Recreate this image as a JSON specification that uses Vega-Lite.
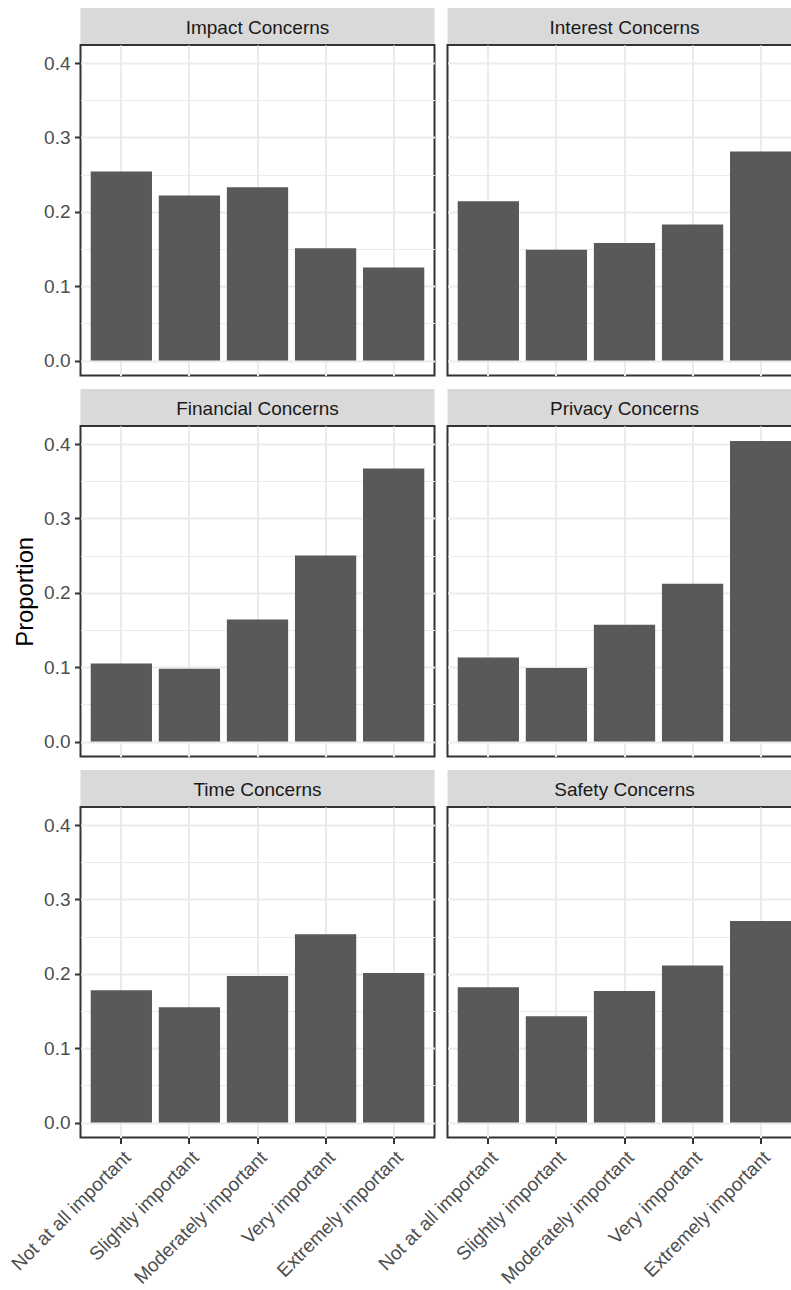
{
  "$schema": "https://vega.github.io/schema/vega-lite/v6.json",
  "padding": {"left": 6.5, "top": 8, "right": -12, "bottom": 5},
  "background": "white",
  "datasets": {
    "props": [
      {"panel": "Impact Concerns", "importance": "Not at all important", "prop": 0.254},
      {"panel": "Impact Concerns", "importance": "Slightly important", "prop": 0.222},
      {"panel": "Impact Concerns", "importance": "Moderately important", "prop": 0.233},
      {"panel": "Impact Concerns", "importance": "Very important", "prop": 0.151},
      {"panel": "Impact Concerns", "importance": "Extremely important", "prop": 0.125},
      {"panel": "Interest Concerns", "importance": "Not at all important", "prop": 0.214},
      {"panel": "Interest Concerns", "importance": "Slightly important", "prop": 0.149},
      {"panel": "Interest Concerns", "importance": "Moderately important", "prop": 0.158},
      {"panel": "Interest Concerns", "importance": "Very important", "prop": 0.183},
      {"panel": "Interest Concerns", "importance": "Extremely important", "prop": 0.281},
      {"panel": "Financial Concerns", "importance": "Not at all important", "prop": 0.105},
      {"panel": "Financial Concerns", "importance": "Slightly important", "prop": 0.098},
      {"panel": "Financial Concerns", "importance": "Moderately important", "prop": 0.164},
      {"panel": "Financial Concerns", "importance": "Very important", "prop": 0.250},
      {"panel": "Financial Concerns", "importance": "Extremely important", "prop": 0.367},
      {"panel": "Privacy Concerns", "importance": "Not at all important", "prop": 0.113},
      {"panel": "Privacy Concerns", "importance": "Slightly important", "prop": 0.099},
      {"panel": "Privacy Concerns", "importance": "Moderately important", "prop": 0.157},
      {"panel": "Privacy Concerns", "importance": "Very important", "prop": 0.212},
      {"panel": "Privacy Concerns", "importance": "Extremely important", "prop": 0.404},
      {"panel": "Time Concerns", "importance": "Not at all important", "prop": 0.178},
      {"panel": "Time Concerns", "importance": "Slightly important", "prop": 0.155},
      {"panel": "Time Concerns", "importance": "Moderately important", "prop": 0.197},
      {"panel": "Time Concerns", "importance": "Very important", "prop": 0.253},
      {"panel": "Time Concerns", "importance": "Extremely important", "prop": 0.201},
      {"panel": "Safety Concerns", "importance": "Not at all important", "prop": 0.182},
      {"panel": "Safety Concerns", "importance": "Slightly important", "prop": 0.143},
      {"panel": "Safety Concerns", "importance": "Moderately important", "prop": 0.177},
      {"panel": "Safety Concerns", "importance": "Very important", "prop": 0.211},
      {"panel": "Safety Concerns", "importance": "Extremely important", "prop": 0.271}
    ]
  },
  "config": {
    "font": "Liberation Sans",
    "view": {"stroke": "#333333", "strokeWidth": 2},
    "axis": {
      "gridColor": "#ebebeb",
      "domain": false,
      "tickColor": "#333333",
      "tickWidth": 2,
      "tickSize": 6,
      "labelColor": "#4d4d4d",
      "labelFont": "Liberation Sans",
      "labelFontSize": 19,
      "titleFont": "Liberation Sans",
      "titleColor": "#000000",
      "titleFontSize": 23.8,
      "titleFontWeight": "normal",
      "minExtent": 0,
      "labelFlush": false,
      "labelOverlap": false
    },
    "bar": {"color": "#595959"},
    "text": {"font": "Liberation Sans"}
  },
  "spacing": 12,
  "vconcat": [
    {
      "spacing": 11,
      "hconcat": [
        {
          "spacing": -2,
          "vconcat": [
            {
              "width": 354, "height": 36.5,
              "data": {"name": "props"},
              "transform": [{"filter": "datum.panel === 'Impact Concerns'"}, {"aggregate": [{"op": "count", "as": "n"}], "groupby": ["panel"]}],
              "view": {"fill": "#d9d9d9"},
              "mark": {"type": "text", "fontSize": 19, "color": "#1a1a1a", "align": "center", "baseline": "middle", "dy": 2},
              "encoding": {"text": {"field": "panel", "type": "nominal"}}
            },
            {
              "width": 354, "height": 330.6,
              "data": {"name": "props"},
              "transform": [{"filter": "datum.panel === 'Impact Concerns'"}],
              "mark": {"type": "bar"},
              "encoding": {
                "x": {"field": "importance", "type": "nominal", "sort": ["Not at all important", "Slightly important", "Moderately important", "Very important", "Extremely important"], "scale": {"paddingInner": 0.1, "paddingOuter": 0.15}, "axis": {"title": null, "labels": false, "ticks": false, "grid": true, "gridWidth": 2, "bandPosition": 0.5}},
                "y": {"field": "prop", "type": "quantitative", "scale": {"domain": [-0.0202, 0.4242], "nice": false, "zero": false}, "axis": {"values": [0, 0.05, 0.1, 0.15, 0.2, 0.25, 0.3, 0.35, 0.4], "grid": true, "gridWidth": {"condition": {"test": "round(datum.value*100) % 10 != 0", "value": 1}, "value": 2}, "tickOpacity": {"condition": {"test": "round(datum.value*100) % 10 != 0", "value": 0}, "value": 1}, "labelExpr": "round(datum.value*100) % 10 == 0 ? format(datum.value, '.1f') : ''", "labelPadding": 4.5, "title": " ", "titlePadding": 6.5}},
                "y2": {"datum": 0}
              }
            }
          ]
        },
        {
          "spacing": -2,
          "vconcat": [
            {
              "width": 354, "height": 36.5,
              "data": {"name": "props"},
              "transform": [{"filter": "datum.panel === 'Interest Concerns'"}, {"aggregate": [{"op": "count", "as": "n"}], "groupby": ["panel"]}],
              "view": {"fill": "#d9d9d9"},
              "mark": {"type": "text", "fontSize": 19, "color": "#1a1a1a", "align": "center", "baseline": "middle", "dy": 2},
              "encoding": {"text": {"field": "panel", "type": "nominal"}}
            },
            {
              "width": 354, "height": 330.6,
              "data": {"name": "props"},
              "transform": [{"filter": "datum.panel === 'Interest Concerns'"}],
              "mark": {"type": "bar"},
              "encoding": {
                "x": {"field": "importance", "type": "nominal", "sort": ["Not at all important", "Slightly important", "Moderately important", "Very important", "Extremely important"], "scale": {"paddingInner": 0.1, "paddingOuter": 0.15}, "axis": {"title": null, "labels": false, "ticks": false, "grid": true, "gridWidth": 2, "bandPosition": 0.5}},
                "y": {"field": "prop", "type": "quantitative", "scale": {"domain": [-0.0202, 0.4242], "nice": false, "zero": false}, "axis": {"values": [0, 0.05, 0.1, 0.15, 0.2, 0.25, 0.3, 0.35, 0.4], "grid": true, "gridWidth": {"condition": {"test": "round(datum.value*100) % 10 != 0", "value": 1}, "value": 2}, "labels": false, "ticks": false, "title": null}},
                "y2": {"datum": 0}
              }
            }
          ]
        }
      ]
    },
    {
      "spacing": 11,
      "hconcat": [
        {
          "spacing": -2,
          "vconcat": [
            {
              "width": 354, "height": 36.5,
              "data": {"name": "props"},
              "transform": [{"filter": "datum.panel === 'Financial Concerns'"}, {"aggregate": [{"op": "count", "as": "n"}], "groupby": ["panel"]}],
              "view": {"fill": "#d9d9d9"},
              "mark": {"type": "text", "fontSize": 19, "color": "#1a1a1a", "align": "center", "baseline": "middle", "dy": 2},
              "encoding": {"text": {"field": "panel", "type": "nominal"}}
            },
            {
              "width": 354, "height": 330.6,
              "data": {"name": "props"},
              "transform": [{"filter": "datum.panel === 'Financial Concerns'"}],
              "mark": {"type": "bar"},
              "encoding": {
                "x": {"field": "importance", "type": "nominal", "sort": ["Not at all important", "Slightly important", "Moderately important", "Very important", "Extremely important"], "scale": {"paddingInner": 0.1, "paddingOuter": 0.15}, "axis": {"title": null, "labels": false, "ticks": false, "grid": true, "gridWidth": 2, "bandPosition": 0.5}},
                "y": {"field": "prop", "type": "quantitative", "scale": {"domain": [-0.0202, 0.4242], "nice": false, "zero": false}, "axis": {"values": [0, 0.05, 0.1, 0.15, 0.2, 0.25, 0.3, 0.35, 0.4], "grid": true, "gridWidth": {"condition": {"test": "round(datum.value*100) % 10 != 0", "value": 1}, "value": 2}, "tickOpacity": {"condition": {"test": "round(datum.value*100) % 10 != 0", "value": 0}, "value": 1}, "labelExpr": "round(datum.value*100) % 10 == 0 ? format(datum.value, '.1f') : ''", "labelPadding": 4.5, "title": "Proportion", "titlePadding": 6.5}},
                "y2": {"datum": 0}
              }
            }
          ]
        },
        {
          "spacing": -2,
          "vconcat": [
            {
              "width": 354, "height": 36.5,
              "data": {"name": "props"},
              "transform": [{"filter": "datum.panel === 'Privacy Concerns'"}, {"aggregate": [{"op": "count", "as": "n"}], "groupby": ["panel"]}],
              "view": {"fill": "#d9d9d9"},
              "mark": {"type": "text", "fontSize": 19, "color": "#1a1a1a", "align": "center", "baseline": "middle", "dy": 2},
              "encoding": {"text": {"field": "panel", "type": "nominal"}}
            },
            {
              "width": 354, "height": 330.6,
              "data": {"name": "props"},
              "transform": [{"filter": "datum.panel === 'Privacy Concerns'"}],
              "mark": {"type": "bar"},
              "encoding": {
                "x": {"field": "importance", "type": "nominal", "sort": ["Not at all important", "Slightly important", "Moderately important", "Very important", "Extremely important"], "scale": {"paddingInner": 0.1, "paddingOuter": 0.15}, "axis": {"title": null, "labels": false, "ticks": false, "grid": true, "gridWidth": 2, "bandPosition": 0.5}},
                "y": {"field": "prop", "type": "quantitative", "scale": {"domain": [-0.0202, 0.4242], "nice": false, "zero": false}, "axis": {"values": [0, 0.05, 0.1, 0.15, 0.2, 0.25, 0.3, 0.35, 0.4], "grid": true, "gridWidth": {"condition": {"test": "round(datum.value*100) % 10 != 0", "value": 1}, "value": 2}, "labels": false, "ticks": false, "title": null}},
                "y2": {"datum": 0}
              }
            }
          ]
        }
      ]
    },
    {
      "spacing": -62,
      "hconcat": [
        {
          "spacing": -2,
          "vconcat": [
            {
              "width": 354, "height": 36.5,
              "data": {"name": "props"},
              "transform": [{"filter": "datum.panel === 'Time Concerns'"}, {"aggregate": [{"op": "count", "as": "n"}], "groupby": ["panel"]}],
              "view": {"fill": "#d9d9d9"},
              "mark": {"type": "text", "fontSize": 19, "color": "#1a1a1a", "align": "center", "baseline": "middle", "dy": 2},
              "encoding": {"text": {"field": "panel", "type": "nominal"}}
            },
            {
              "width": 354, "height": 330.6,
              "data": {"name": "props"},
              "transform": [{"filter": "datum.panel === 'Time Concerns'"}],
              "mark": {"type": "bar"},
              "encoding": {
                "x": {"field": "importance", "type": "nominal", "sort": ["Not at all important", "Slightly important", "Moderately important", "Very important", "Extremely important"], "scale": {"paddingInner": 0.1, "paddingOuter": 0.15}, "axis": {"title": null, "grid": true, "gridWidth": 2, "bandPosition": 0.5, "labelAngle": -45, "labelAlign": "right", "labelBaseline": "top", "labelPadding": 4}},
                "y": {"field": "prop", "type": "quantitative", "scale": {"domain": [-0.0202, 0.4242], "nice": false, "zero": false}, "axis": {"values": [0, 0.05, 0.1, 0.15, 0.2, 0.25, 0.3, 0.35, 0.4], "grid": true, "gridWidth": {"condition": {"test": "round(datum.value*100) % 10 != 0", "value": 1}, "value": 2}, "tickOpacity": {"condition": {"test": "round(datum.value*100) % 10 != 0", "value": 0}, "value": 1}, "labelExpr": "round(datum.value*100) % 10 == 0 ? format(datum.value, '.1f') : ''", "labelPadding": 4.5, "title": " ", "titlePadding": 6.5}},
                "y2": {"datum": 0}
              }
            }
          ]
        },
        {
          "spacing": -2,
          "vconcat": [
            {
              "width": 354, "height": 36.5,
              "data": {"name": "props"},
              "transform": [{"filter": "datum.panel === 'Safety Concerns'"}, {"aggregate": [{"op": "count", "as": "n"}], "groupby": ["panel"]}],
              "view": {"fill": "#d9d9d9"},
              "mark": {"type": "text", "fontSize": 19, "color": "#1a1a1a", "align": "center", "baseline": "middle", "dy": 2},
              "encoding": {"text": {"field": "panel", "type": "nominal"}}
            },
            {
              "width": 354, "height": 330.6,
              "data": {"name": "props"},
              "transform": [{"filter": "datum.panel === 'Safety Concerns'"}],
              "mark": {"type": "bar"},
              "encoding": {
                "x": {"field": "importance", "type": "nominal", "sort": ["Not at all important", "Slightly important", "Moderately important", "Very important", "Extremely important"], "scale": {"paddingInner": 0.1, "paddingOuter": 0.15}, "axis": {"title": null, "grid": true, "gridWidth": 2, "bandPosition": 0.5, "labelAngle": -45, "labelAlign": "right", "labelBaseline": "top", "labelPadding": 4}},
                "y": {"field": "prop", "type": "quantitative", "scale": {"domain": [-0.0202, 0.4242], "nice": false, "zero": false}, "axis": {"values": [0, 0.05, 0.1, 0.15, 0.2, 0.25, 0.3, 0.35, 0.4], "grid": true, "gridWidth": {"condition": {"test": "round(datum.value*100) % 10 != 0", "value": 1}, "value": 2}, "labels": false, "ticks": false, "title": null}},
                "y2": {"datum": 0}
              }
            }
          ]
        }
      ]
    }
  ]
}
